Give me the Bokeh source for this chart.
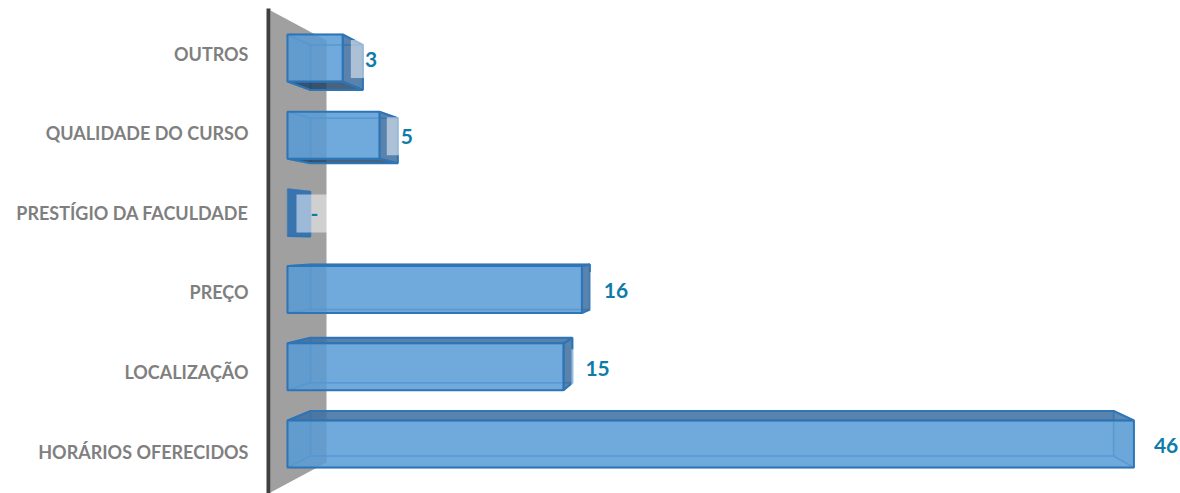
from bokeh.plotting import figure
from bokeh.embed import file_html
from bokeh.resources import INLINE
from bokeh.models import FixedTicker, Range1d
from bokeh.core.properties import value

# Data (bottom row first)
categories = ["HORÁRIOS OFERECIDOS", "LOCALIZAÇÃO", "PREÇO", "PRESTÍGIO DA FACULDADE", "QUALIDADE DO CURSO", "OUTROS"]
values = [46, 15, 16, 0, 5, 3]
value_labels = ["46", "15", "16", "-", "5", "3"]

# Layout: pixel geometry of the 3D projection
W, H = 1180, 493
FRAME_L = 262
PX_PER_UNIT = 18.4
X0 = 287
BACK_X0, BACK_PX = 310, 17.46
LABEL_Y0, LABEL_PITCH = 451, 79.6
FRONT_Y0, FRONT_PITCH, FRONT_H = 443.5, 77.2, 47
BACK_Y0, BACK_PITCH, BACK_H = 433, 73.2, 45
LABEL_GAP = [20, 13, 14, 0, 3, 2]       # gap from bar end to the value label
VALUE_Y0, VALUE_PITCH = 445, 77.3


def dx(px):
    return (px - X0) / PX_PER_UNIT


def dy(py):
    return (LABEL_Y0 - py) / LABEL_PITCH


x_range = Range1d(dx(FRAME_L), dx(W))
y_range = Range1d(dy(H), dy(0))

p = figure(width=W, height=H, output_backend="svg", toolbar_location=None,
           x_range=x_range, y_range=y_range,
           min_border_left=FRAME_L, min_border_right=0, min_border_top=0, min_border_bottom=0)
p.outline_line_color = None
p.background_fill_color = "white"
p.grid.visible = False
p.xaxis.visible = False

ax = p.yaxis[0]
ax.ticker = FixedTicker(ticks=list(range(len(categories))))
ax.major_label_overrides = {i: c for i, c in enumerate(categories)}
ax.axis_line_color = None
ax.major_tick_line_color = None
ax.minor_tick_line_color = None
ax.major_label_standoff = 8
ax.major_label_text_font = "Lato"
ax.major_label_text_font_style = "bold"
ax.major_label_text_font_size = "18px"
ax.major_label_text_color = "#7f7f7f"

# Wall
p.patch([dx(270), dx(326), dx(326), dx(270)], [dy(10), dy(40), dy(462), dy(492)],
        fill_color="#a0a0a0", line_color=None)
p.line([dx(268), dx(268)], [dy(8), dy(493)], line_color="#404040", line_width=4)

EDGE = "#2e75b6"
LIGHT = "#5b9bd5"
DARK = "#3f6f9f"
DARKER = "#1f3f60"

for i, v in enumerate(values):
    fl, fr = X0, X0 + v * PX_PER_UNIT
    bl, br = BACK_X0, BACK_X0 + v * BACK_PX
    fc = FRONT_Y0 - i * FRONT_PITCH
    bc = BACK_Y0 - i * BACK_PITCH
    ft, fb = fc - FRONT_H / 2, fc + FRONT_H / 2
    bt, bb = bc - BACK_H / 2, bc + BACK_H / 2

    def face(pts, fill, alpha, lw=1.5, la=0.55):
        p.patch([dx(a) for a, _ in pts], [dy(b) for _, b in pts], fill_color=fill, fill_alpha=alpha,
                line_color=EDGE, line_width=lw, line_alpha=la)

    # back and left faces
    face([(bl, bt), (br, bt), (br, bb), (bl, bb)], LIGHT, 0.12)
    face([(fl, ft), (bl, bt), (bl, bb), (fl, fb)], LIGHT if v else "#2e6fb0", 0.25 if v else 0.9)
    # bottom
    if bb > fb:
        face([(fl, fb), (fr, fb), (br, bb), (bl, bb)], DARKER, 0.8, 2, 1)
    else:
        face([(fl, fb), (fr, fb), (br, bb), (bl, bb)], LIGHT, 0.12)
    # top
    if bt < ft:
        face([(fl, ft), (fr, ft), (br, bt), (bl, bt)], DARK, 0.85, 2, 1)
    else:
        face([(fl, ft), (fr, ft), (br, bt), (bl, bt)], LIGHT, 0.12)
    # right
    if v:
        if br > fr:
            face([(fr, ft), (br, bt), (br, bb), (fr, fb)], DARK, 0.85, 2, 1)
        else:
            face([(fr, ft), (br, bt), (br, bb), (fr, fb)], LIGHT, 0.25)
        # front
        p.patch([dx(a) for a in (fl, fr, fr, fl)], [dy(b) for b in (ft, ft, fb, fb)],
                fill_color=LIGHT, fill_alpha=0.85, line_color=EDGE, line_width=2)

# Value labels with their translucent white boxes
for i, (v, lab) in enumerate(zip(values, value_labels)):
    end = max(X0 + v * PX_PER_UNIT, BACK_X0 + v * BACK_PX)
    tx = end + LABEL_GAP[i]
    ty = VALUE_Y0 - i * VALUE_PITCH
    box = [tx - 14, tx + 20, ty - 19, ty + 19]
    p.quad(left=dx(box[0]), right=dx(box[1]), top=dy(box[2]), bottom=dy(box[3]),
           fill_color="white", fill_alpha=0.5, line_color=None)
    p.text(x=[dx(tx)], y=[dy(ty)], text=[lab], text_font=value("Lato"), text_font_style="bold",
           text_font_size="21px", text_color="#0f7ba8", text_align="left", text_baseline="middle")

open("out.html", "w").write(file_html(p, INLINE))
